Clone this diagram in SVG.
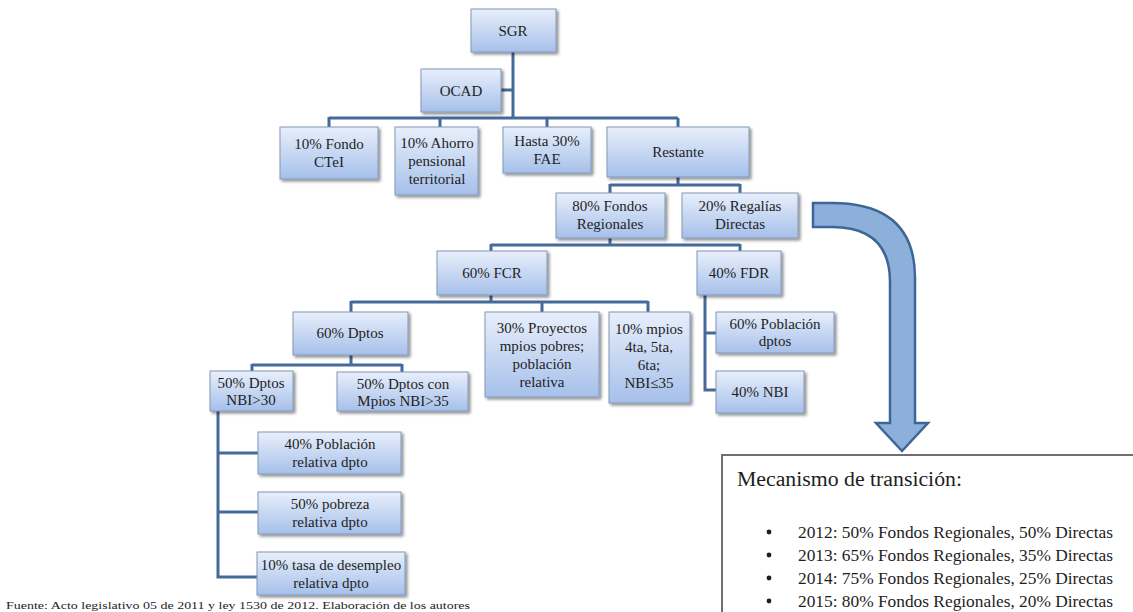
<svg xmlns="http://www.w3.org/2000/svg" width="1133" height="612" viewBox="0 0 1133 612">
<defs>
<linearGradient id="g" x1="0" y1="0" x2="0" y2="1">
<stop offset="0" stop-color="#e8effb"/>
<stop offset="1" stop-color="#a6c0ea"/>
</linearGradient>
<filter id="sh" x="-10%" y="-10%" width="130%" height="140%">
<feGaussianBlur in="SourceAlpha" stdDeviation="1.5"/>
<feOffset dx="2" dy="2" result="o"/>
<feComponentTransfer><feFuncA type="linear" slope="0.45"/></feComponentTransfer>
<feMerge><feMergeNode/><feMergeNode in="SourceGraphic"/></feMerge>
</filter>
</defs>
<style>
.b{fill:url(#g);stroke:#8197b8;stroke-width:1;filter:url(#sh)}
.t{font-family:"Liberation Serif",serif;font-size:15px;fill:#1e1e1e;text-anchor:middle}
.c{fill:none;stroke:#44699b;stroke-width:3;stroke-linejoin:miter}
.m{font-family:"Liberation Serif",serif;fill:#1e1e1e}
.l{font-size:17px}
</style>
<rect width="1133" height="612" fill="#fff"/>
<g id="connectors">
<path class="c" d="M513 52V118M501 90H513M329 118H678M329 117V127M440 118V127M547 118V127M678 118V127"/>
<path class="c" d="M678 177V185M610 185H740M610 184V193M740 184V193"/>
<path class="c" d="M610 238V245M491 245H740M491 244V251M740 244V251"/>
<path class="c" d="M491 295V302M351 302H648M351 301V312M542 301V312M648 301V312"/>
<path class="c" d="M351 355V365M252 365H402M252 364V371M402 364V372"/>
<path class="c" d="M218 410V577H257M218 453H258M218 512H258"/>
<path class="c" d="M705 295V390H717M705 333H716"/>
</g>
<g id="sgr"><rect class="b" x="471" y="9" width="85" height="43"/><text class="t" x="513" y="36">SGR</text></g>
<g id="ocad"><rect class="b" x="421" y="69" width="80" height="43"/><text class="t" x="461" y="96">OCAD</text></g>
<g id="ctei"><rect class="b" x="280" y="127" width="98" height="52"/><text class="t" x="329" y="149">10% Fondo</text><text class="t" x="329" y="167">CTeI</text></g>
<g id="ahorro"><rect class="b" x="395" y="127" width="83" height="68"/><text class="t" x="437" y="148">10% Ahorro</text><text class="t" x="437" y="166">pensional</text><text class="t" x="437" y="184">territorial</text></g>
<g id="fae"><rect class="b" x="503" y="127" width="88" height="46"/><text class="t" x="547" y="146">Hasta 30%</text><text class="t" x="547" y="164">FAE</text></g>
<g id="restante"><rect class="b" x="607" y="127" width="142" height="50"/><text class="t" x="678" y="157">Restante</text></g>
<g id="fondos"><rect class="b" x="556" y="193" width="109" height="45"/><text class="t" x="610" y="211">80% Fondos</text><text class="t" x="610" y="229">Regionales</text></g>
<g id="regalias"><rect class="b" x="682" y="193" width="116" height="45"/><text class="t" x="740" y="211">20% Regalías</text><text class="t" x="740" y="229">Directas</text></g>
<g id="fcr"><rect class="b" x="437" y="251" width="110" height="44"/><text class="t" x="492" y="278">60% FCR</text></g>
<g id="fdr"><rect class="b" x="697" y="251" width="84" height="44"/><text class="t" x="739" y="278">40% FDR</text></g>
<g id="dptos"><rect class="b" x="293" y="312" width="115" height="43"/><text class="t" x="350" y="338">60% Dptos</text></g>
<g id="proyectos"><rect class="b" x="485" y="312" width="114" height="85"/><text class="t" x="542" y="333">30% Proyectos</text><text class="t" x="542" y="351">mpios pobres;</text><text class="t" x="542" y="369">población</text><text class="t" x="542" y="387">relativa</text></g>
<g id="mpios"><rect class="b" x="609" y="312" width="81" height="91"/><text class="t" x="649" y="334">10% mpios</text><text class="t" x="649" y="352">4ta, 5ta,</text><text class="t" x="649" y="370">6ta;</text><text class="t" x="649" y="388">NBI≤35</text></g>
<g id="nbi30"><rect class="b" x="210" y="371" width="83" height="40"/><text class="t" x="251" y="388">50% Dptos</text><text class="t" x="251" y="405">NBI&gt;30</text></g>
<g id="nbi35"><rect class="b" x="337" y="372" width="131" height="39"/><text class="t" x="403" y="389">50% Dptos con</text><text class="t" x="403" y="406">Mpios NBI&gt;35</text></g>
<g id="poblacion"><rect class="b" x="258" y="432" width="143" height="42"/><text class="t" x="330" y="449">40% Población</text><text class="t" x="330" y="467">relativa dpto</text></g>
<g id="pobreza"><rect class="b" x="258" y="492" width="143" height="42"/><text class="t" x="330" y="509">50% pobreza</text><text class="t" x="330" y="527">relativa dpto</text></g>
<g id="desempleo"><rect class="b" x="257" y="552" width="148" height="43"/><text class="t" x="331" y="570">10% tasa de desempleo</text><text class="t" x="331" y="588">relativa dpto</text></g>
<g id="pobdptos"><rect class="b" x="716" y="312" width="118" height="41"/><text class="t" x="775" y="329">60% Población</text><text class="t" x="775" y="346">dptos</text></g>
<g id="nbi"><rect class="b" x="716" y="371" width="88" height="42"/><text class="t" x="760" y="397">40% NBI</text></g>
<g id="arrow"><path d="M813 203H832Q915 203 915 278V423H928L902 451L876 423H890V282Q890 227 832 227H813Z" fill="#8db0da" stroke="#3d6596" stroke-width="2.5" stroke-linejoin="miter"/></g>
<g id="transicion">
<rect x="722" y="455" width="420" height="170" fill="#fff" stroke="#606060" stroke-width="1.8"/>
<text class="m" x="737" y="486" font-size="20" textLength="225" lengthAdjust="spacingAndGlyphs">Mecanismo de transición:</text>
<circle cx="769" cy="532" r="2.4" fill="#1e1e1e"/><text class="m l" x="798" y="538" textLength="315" lengthAdjust="spacingAndGlyphs">2012: 50% Fondos Regionales, 50% Directas</text>
<circle cx="769" cy="555" r="2.4" fill="#1e1e1e"/><text class="m l" x="798" y="561" textLength="315" lengthAdjust="spacingAndGlyphs">2013: 65% Fondos Regionales, 35% Directas</text>
<circle cx="769" cy="578" r="2.4" fill="#1e1e1e"/><text class="m l" x="798" y="584" textLength="315" lengthAdjust="spacingAndGlyphs">2014: 75% Fondos Regionales, 25% Directas</text>
<circle cx="769" cy="601" r="2.4" fill="#1e1e1e"/><text class="m l" x="798" y="607" textLength="315" lengthAdjust="spacingAndGlyphs">2015: 80% Fondos Regionales, 20% Directas</text>
</g>
<text class="m" x="6" y="609" font-size="11" textLength="464" lengthAdjust="spacingAndGlyphs">Fuente: Acto legislativo 05 de 2011 y ley 1530 de 2012. Elaboración de los autores</text>
</svg>
